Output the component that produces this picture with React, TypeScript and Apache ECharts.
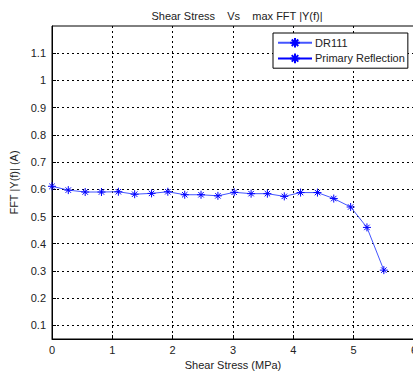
import React, { useEffect, useRef } from "react";
import * as echarts from "echarts";

const stress = [0, 0.27, 0.55, 0.82, 1.1, 1.37, 1.65, 1.92, 2.2, 2.47, 2.75, 3.02, 3.3, 3.57, 3.85, 4.12, 4.4, 4.67, 4.95, 5.22, 5.5];
const fftDR111 = [0.611, 0.597, 0.59, 0.59, 0.591, 0.582, 0.585, 0.591, 0.58, 0.58, 0.576, 0.589, 0.584, 0.584, 0.574, 0.588, 0.588, 0.566, 0.535, 0.46, 0.303];
const yTicks = [0.1, 0.2, 0.3, 0.4, 0.5, 0.6, 0.7, 0.8, 0.9, 1, 1.1];
const seriesNames = ["DR111", "Primary Reflection"];

const star = "path://M5 0 L5 10 M0 5 L10 5 M1.6 1.6 L8.4 8.4 M8.4 1.6 L1.6 8.4";
const FONT = "Liberation Sans, Arial, sans-serif";

export default function App() {
  const ref = useRef<HTMLDivElement>(null);
  useEffect(() => {
    if (!ref.current) return;
    const chart = echarts.init(ref.current, undefined, { renderer: "svg" });
    const axisText = { color: "#222", fontFamily: FONT, fontSize: 11 };
    chart.setOption({
      animation: false,
      backgroundColor: "#fff",
      title: {
        text: "Shear Stress    Vs    max FFT |Y(f)|",
        left: 232,
        textAlign: "center",
        top: 5,
        textStyle: { ...axisText, fontWeight: "normal" },
      },
      legend: {
        orient: "vertical",
        left: 273,
        top: 33,
        data: seriesNames,
        backgroundColor: "#fff",
        borderColor: "#000",
        borderWidth: 1,
        padding: [4, 3, 4, 4],
        itemGap: 4,
        itemWidth: 34,
        itemHeight: 12,
        textStyle: { ...axisText, padding: [0, 0, 0, -2] },
      },
      grid: {
        left: 52,
        right: -1,
        top: 26,
        bottom: 35,
        outerBoundsMode: "none",
        containLabel: false,
        show: true,
        borderColor: "#000",
        borderWidth: 1,
      },
      xAxis: {
        type: "value",
        min: 0,
        max: 6,
        interval: 1,
        name: "Shear Stress (MPa)",
        nameLocation: "middle",
        nameGap: 20,
        nameTextStyle: axisText,
        axisLine: { lineStyle: { color: "#000", width: 1 } },
        axisTick: { inside: true, length: 4, lineStyle: { color: "#000" } },
        axisLabel: { ...axisText, margin: 5 },
        splitLine: { show: true, lineStyle: { color: "#000", type: [2, 3], width: 1 } },
      },
      yAxis: {
        type: "value",
        min: 0.05,
        max: 1.2,
        name: "FFT |Y(f)| (A)",
        nameLocation: "middle",
        nameGap: 31,
        nameTextStyle: axisText,
        axisLine: { show: true, lineStyle: { color: "#000", width: 1 } },
        axisTick: { show: true, inside: true, length: 4, customValues: yTicks, lineStyle: { color: "#000" } },
        axisLabel: { ...axisText, margin: 6, customValues: yTicks },
        splitLine: { show: true, lineStyle: { color: "#000", type: [2, 3], width: 1 } },
      },
      series: [
        {
          name: seriesNames[0],
          type: "line",
          data: stress.map((x, i) => [x, fftDR111[i]]),
          symbol: star,
          symbolSize: 8,
          showAllSymbol: true,
          lineStyle: { color: "#4455ff", width: 1 },
          itemStyle: { color: "rgba(0,0,0,0)", borderColor: "#0000ff", borderWidth: 1 },
        },
        {
          name: seriesNames[1],
          type: "line",
          data: [],
          symbol: star,
          symbolSize: 8,
          lineStyle: { color: "#0000ff", width: 1 },
          itemStyle: { color: "rgba(0,0,0,0)", borderColor: "#0000ff", borderWidth: 1 },
        },
      ],
    });
    return () => chart.dispose();
  }, []);
  return (
    <div
      ref={ref}
      style={{ position: "fixed", left: 0, top: 0, width: 413, height: 374 }}
    />
  );
}
